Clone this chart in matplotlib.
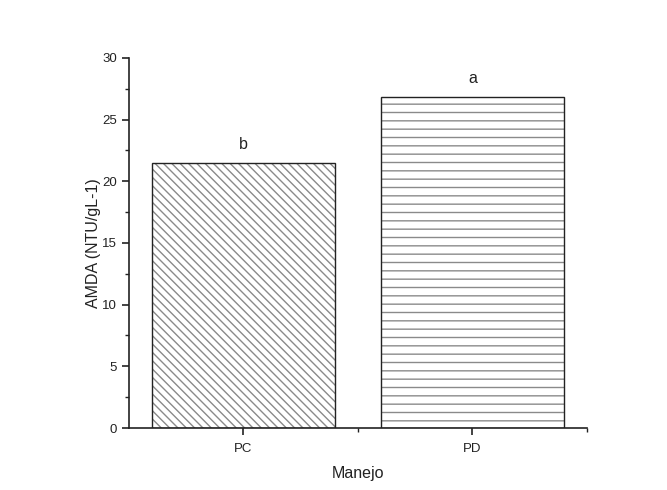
import matplotlib
matplotlib.use('Agg')
import matplotlib.pyplot as plt
import numpy as np

categories = ['PC', 'PD']
values = [21.5, 26.8]
letters = ['b', 'a']
hatches = ['\\\\\\\\', '--']

plt.rcParams['font.family'] = ['Liberation Sans', 'DejaVu Sans']
plt.rcParams['hatch.linewidth'] = 1.0

fig = plt.figure(figsize=(6.67, 4.9), dpi=100)
ax = fig.add_axes([0.193, 0.1265, 0.687, 0.7555])

x = np.arange(len(categories))
for xi, v, h in zip(x, values, hatches):
    ax.bar(xi, v, width=0.8, color='white', edgecolor='#8a8a8a', hatch=h, linewidth=0)
    ax.bar(xi, v, width=0.8, fill=False, edgecolor='#222222', linewidth=1.0)
    ax.text(xi, v + 0.9, letters[xi], ha='center', va='bottom', fontsize=11.5, color='#222222')

ax.set_xlim(-0.5, 1.5)
ax.set_ylim(0, 30)
ax.set_xticks(x)
ax.set_xticklabels(categories)
ax.set_xticks([0.5, 1.5], minor=True)
ax.set_yticks(np.arange(0, 31, 5))
ax.set_yticks(np.arange(2.5, 30, 5), minor=True)
ax.spines['top'].set_visible(False)
ax.spines['right'].set_visible(False)
for s in ['left', 'bottom']:
    ax.spines[s].set_linewidth(1.2)
    ax.spines[s].set_color('#222222')
ax.tick_params(which='major', length=5, width=1.2, labelsize=9.5, colors='#222222')
ax.tick_params(axis='x', which='major', pad=6)
ax.tick_params(which='minor', length=3, width=1.0, colors='#222222')
ax.set_ylabel('AMDA (NTU/gL-1)', fontsize=11.5, color='#222222', labelpad=1)
ax.set_xlabel('Manejo', fontsize=11.5, color='#222222', labelpad=8)

fig.savefig('out.png', dpi=100)
